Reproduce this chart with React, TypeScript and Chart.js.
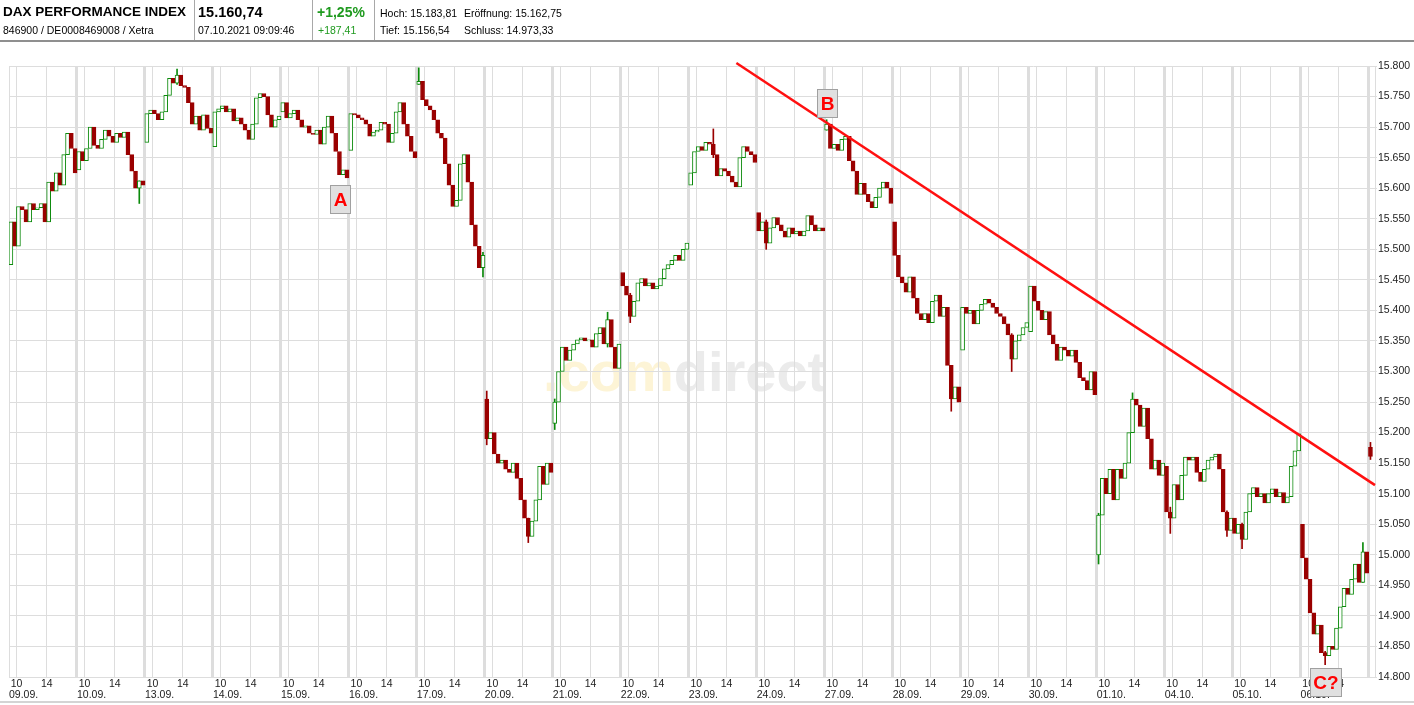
import React, { useEffect, useRef } from 'react';
import { Chart, registerables } from 'chart.js';

Chart.register(...registerables);

const FONT = '"Liberation Sans", Arial, Helvetica, sans-serif';

// ---- data ----
const DAY_LABELS = ['09.09.', '10.09.', '13.09.', '14.09.', '15.09.', '16.09.', '17.09.', '20.09.', '21.09.', '22.09.', '23.09.', '24.09.', '27.09.', '28.09.', '29.09.', '30.09.', '01.10.', '04.10.', '05.10.', '06.10.', '07.10.'];
const HOUR_LABELS = ['10', '14'];
const HOUR_OFFSETS = [1, 5];

// each day: open of first 30-min candle, followed by the closes of the 30-min candles
const p0909 = [15475, 15545, 15505, 15570, 15565, 15545, 15575, 15565, 15568, 15575, 15545, 15610, 15595, 15625, 15605, 15655, 15690, 15665, 15625];
const p1009 = [15630, 15660, 15645, 15665, 15700, 15670, 15665, 15680, 15695, 15685, 15675, 15690, 15683, 15692, 15655, 15628, 15600, 15612, 15605];
const p1309 = [15675, 15722, 15728, 15722, 15712, 15725, 15752, 15780, 15772, 15785, 15768, 15765, 15740, 15705, 15718, 15695, 15720, 15698, 15690];
const p1409 = [15668, 15725, 15730, 15735, 15725, 15730, 15710, 15715, 15705, 15695, 15680, 15705, 15748, 15755, 15750, 15720, 15700, 15712, 15718];
const p1509 = [15725, 15740, 15715, 15722, 15728, 15712, 15700, 15702, 15690, 15688, 15695, 15672, 15700, 15718, 15690, 15660, 15622, 15630, 15617];
const p1609 = [15662, 15722, 15720, 15715, 15712, 15705, 15685, 15692, 15695, 15708, 15705, 15675, 15690, 15725, 15740, 15705, 15685, 15660, 15650];
const p1709 = [15770, 15775, 15745, 15735, 15728, 15712, 15690, 15682, 15640, 15605, 15570, 15580, 15640, 15655, 15610, 15540, 15505, 15470, 15490];
const p2009 = [15255, 15190, 15200, 15165, 15150, 15155, 15140, 15135, 15150, 15125, 15090, 15060, 15030, 15055, 15090, 15145, 15115, 15150, 15135];
const p2109 = [15215, 15250, 15300, 15340, 15318, 15335, 15345, 15352, 15355, 15350, 15352, 15340, 15362, 15372, 15345, 15385, 15340, 15305, 15345];
const p2209 = [15462, 15440, 15425, 15390, 15415, 15445, 15452, 15440, 15445, 15435, 15440, 15452, 15468, 15475, 15482, 15490, 15482, 15500, 15510];
const p2309 = [15605, 15625, 15660, 15668, 15662, 15675, 15672, 15655, 15620, 15632, 15628, 15620, 15610, 15602, 15650, 15668, 15660, 15655, 15642];
const p2409 = [15560, 15530, 15545, 15510, 15535, 15552, 15540, 15530, 15520, 15535, 15525, 15530, 15522, 15530, 15555, 15540, 15530, 15535, 15530];
const p2709 = [15695, 15705, 15665, 15672, 15662, 15680, 15685, 15645, 15628, 15590, 15608, 15590, 15578, 15568, 15585, 15600, 15610, 15600, 15575];
const p2809 = [15545, 15490, 15455, 15445, 15430, 15455, 15420, 15395, 15385, 15395, 15380, 15415, 15425, 15390, 15405, 15310, 15255, 15275, 15250];
const p2909 = [15335, 15405, 15395, 15400, 15378, 15400, 15410, 15418, 15412, 15405, 15395, 15390, 15378, 15360, 15320, 15350, 15360, 15372, 15380];
const p3009 = [15365, 15440, 15415, 15400, 15385, 15398, 15360, 15345, 15318, 15340, 15335, 15325, 15335, 15315, 15290, 15285, 15270, 15300, 15262];
const p0110 = [15000, 15065, 15125, 15100, 15140, 15090, 15140, 15125, 15150, 15200, 15255, 15245, 15210, 15240, 15190, 15140, 15155, 15130, 15150];
const p0410 = [15145, 15070, 15060, 15115, 15090, 15130, 15160, 15155, 15160, 15135, 15120, 15140, 15155, 15160, 15165, 15140, 15070, 15040, 15060];
const p0510 = [15060, 15035, 15050, 15025, 15070, 15100, 15110, 15095, 15100, 15085, 15100, 15108, 15095, 15102, 15085, 15095, 15145, 15170, 15198];
const p0610 = [15050, 14995, 14960, 14905, 14870, 14885, 14840, 14835, 14850, 14845, 14880, 14915, 14945, 14935, 14960, 14985, 14955, 15005, 14970];
const p0710 = [15176, 15161];

const DAY_PRICES = [p0909, p1009, p1309, p1409, p1509, p1609, p1709, p2009, p2109, p2209, p2309, p2409, p2709, p2809, p2909, p3009, p0110, p0410, p0510, p0610, p0710];

// visible wicks (day index, candle slot, low, high)
const WICK_DAY = [1, 2, 6, 6, 7, 7, 8, 8, 9, 10, 11, 12, 13, 14, 16, 16, 17, 17, 18, 19, 19, 20];
const WICK_SLOT = [16, 8, 0, 17, 0, 11, 0, 14, 2, 6, 2, 0, 15, 13, 0, 9, 1, 16, 2, 6, 16, 0];
const WICK_LOW = [15575, 15770, 15770, 15455, 15180, 15020, 15205, 15340, 15380, 15650, 15500, 15695, 15235, 15300, 14985, 15200, 15035, 15030, 15010, 14820, 14990, 15156];
const WICK_HIGH = [15612, 15795, 15797, 15495, 15268, 15060, 15255, 15397, 15428, 15697, 15548, 15712, 15275, 15362, 15068, 15265, 15078, 15072, 15052, 14842, 15020, 15184];

const Y_MIN = 14800;
const Y_MAX = 15800;
const Y_STEP = 50;

// trend line (x in trading hours since 09.09. 09:00, 9 h per day on the axis)
const TREND_X = [96.3, 180.85];
const TREND_Y = [15805, 15114];

const MARKER_LABELS = ['A', 'B', 'C?'];
const MARKER_X = [43.83, 108.35, 174.3];
const MARKER_Y = [15582, 15739, 14791];

const HOURS_PER_DAY = 9;
const SLOT = 0.5;
const X_MAX = 180.85;

const UP = '#0b8a0b';
const DOWN = '#9a0000';
const GRID = '#dddddd';

function fmt(v: number): string {
  const s = String(Math.round(v));
  return s.slice(0, s.length - 3) + '.' + s.slice(s.length - 3);
}

const slotX = (d: number, i: number) => d * HOURS_PER_DAY + SLOT / 2 + SLOT * i;

const decorPlugin = {
  id: 'decor',
  beforeDraw(chart: any) {
    const ctx = chart.ctx;
    ctx.save();
    ctx.font = 'bold 56px ' + FONT;
    ctx.textBaseline = 'alphabetic';
    ctx.textAlign = 'left';
    ctx.fillStyle = '#fdf4d6';
    const x0 = 543;
    ctx.fillText('.com', x0, 391);
    const w = ctx.measureText('.com').width;
    ctx.fillStyle = '#ebebeb';
    ctx.fillText('direct', x0 + w, 391);
    ctx.restore();
  },
  afterDraw(chart: any) {
    const ctx = chart.ctx;
    const xs = chart.scales.x;
    const ys = chart.scales.y;
    ctx.save();
    ctx.font = '10.5px ' + FONT;
    ctx.fillStyle = '#222';
    ctx.textBaseline = 'middle';
    for (let d = 0; d < DAY_LABELS.length - 1; d++) {
      const base = d * HOURS_PER_DAY;
      ctx.textAlign = 'center';
      HOUR_LABELS.forEach((h, i) => {
        ctx.fillText(h, xs.getPixelForValue(base + HOUR_OFFSETS[i]), 684);
      });
      ctx.textAlign = 'left';
      ctx.fillText(DAY_LABELS[d], xs.getPixelForValue(base), 695);
    }
    // bottom frame line
    ctx.fillStyle = '#d4d4d4';
    ctx.fillRect(0, 701, chart.width, 2);

    // markers
    MARKER_LABELS.forEach((lab, i) => {
      const cx = xs.getPixelForValue(MARKER_X[i]);
      const cy = ys.getPixelForValue(MARKER_Y[i]);
      ctx.font = 'bold 19px ' + FONT;
      const tw = ctx.measureText(lab).width;
      const bw = Math.round(tw + 6);
      const bh = 28;
      const bx = Math.round(cx - bw / 2) + 0.5;
      const by = Math.round(cy - bh / 2) + 0.5;
      ctx.fillStyle = '#e0e0e0';
      ctx.fillRect(bx, by, bw, bh);
      ctx.strokeStyle = '#a0a0a0';
      ctx.lineWidth = 1;
      ctx.strokeRect(bx, by, bw, bh);
      ctx.fillStyle = '#ff0000';
      ctx.textAlign = 'center';
      ctx.textBaseline = 'middle';
      ctx.fillText(lab, bx + bw / 2, by + bh / 2 + 1);
    });
    ctx.restore();
  },
};

function buildCandles() {
  const out: { x: number; y: [number, number] }[] = [];
  DAY_PRICES.forEach((prices, d) => {
    for (let i = 1; i < prices.length; i++) {
      out.push({ x: slotX(d, i - 1), y: [prices[i - 1], prices[i]] });
    }
  });
  return out;
}

function buildWicks() {
  return WICK_DAY.map((d, k) => {
    const s = WICK_SLOT[k];
    const o = DAY_PRICES[d][s];
    const c = DAY_PRICES[d][s + 1];
    return {
      x: slotX(d, s),
      y: [Math.min(WICK_LOW[k], o, c), Math.max(WICK_HIGH[k], o, c)] as [number, number],
      up: c >= o,
    };
  });
}

function ChartCanvas() {
  const ref = useRef<HTMLCanvasElement | null>(null);
  useEffect(() => {
    if (!ref.current) return;
    const candles = buildCandles();
    const wicks = buildWicks();
    const isUp = (c: any) => {
      const r = c && c.raw;
      if (!r || !r.y) return false;
      return r.y[1] >= r.y[0];
    };
    const chart = new Chart(ref.current, {
      type: 'bar',
      data: {
        datasets: [
          {
            type: 'line',
            data: TREND_X.map((x, i) => ({ x, y: TREND_Y[i] })),
            borderColor: '#ff1010',
            borderWidth: 2.5,
            pointRadius: 0,
            clip: false,
            order: 0,
          } as any,
          {
            type: 'bar',
            data: candles as any,
            barThickness: 4,
            grouped: false,
            borderWidth: 1,
            borderSkipped: false,
            backgroundColor: (c: any) => (isUp(c) ? '#ffffff' : DOWN),
            borderColor: (c: any) => (isUp(c) ? UP : DOWN),
            order: 1,
          } as any,
          {
            type: 'bar',
            data: wicks as any,
            barThickness: 1,
            grouped: false,
            borderWidth: 0,
            backgroundColor: (c: any) => (c && c.raw && c.raw.up ? UP : DOWN),
            order: 2,
          } as any,
        ],
      },
      options: {
        animation: false,
        responsive: false,
        devicePixelRatio: 1,
        layout: { padding: { left: 9, top: 66, right: 0, bottom: 0 } },
        plugins: { legend: { display: false }, tooltip: { enabled: false } },
        scales: {
          x: {
            type: 'linear',
            min: 0,
            max: X_MAX,
            offset: false,
            afterFit: (s: any) => {
              s.height = 28;
            },
            afterBuildTicks: (s: any) => {
              const t: { value: number }[] = [];
              for (let d = 0; d < DAY_LABELS.length; d++) {
                const b = d * HOURS_PER_DAY;
                [0, ...HOUR_OFFSETS].forEach((o) => {
                  if (b + o <= X_MAX) t.push({ value: b + o });
                });
              }
              s.ticks = t;
            },
            ticks: { display: false },
            grid: {
              offset: false,
              color: GRID,
              drawTicks: false,
              lineWidth: (c: any) => {
                const v = c.tick ? c.tick.value : 1;
                return v > 0 && Math.abs(v % HOURS_PER_DAY) < 1e-6 ? 3 : 1;
              },
            },
            border: { display: true, color: GRID },
          },
          y: {
            position: 'right',
            min: Y_MIN,
            max: Y_MAX,
            afterFit: (s: any) => {
              s.width = 39;
            },
            ticks: {
              stepSize: Y_STEP,
              padding: 1,
              color: '#222',
              font: { family: FONT, size: 10.5 },
              callback: (v: any) => fmt(Number(v)),
            },
            grid: { offset: false, color: GRID, tickLength: 2, lineWidth: 1 },
            border: { display: true, color: GRID },
          },
        },
      },
      plugins: [decorPlugin],
    });
    return () => chart.destroy();
  }, []);
  return <canvas ref={ref} width={1414} height={705} style={{ display: 'block', width: 1414, height: 705 }} />;
}

function Header() {
  const t = (text: string, left: number, top: number, size: number, bold: boolean, color = '#000') => (
    <div
      style={{
        position: 'absolute',
        left,
        top,
        fontSize: size,
        lineHeight: 1,
        fontWeight: bold ? 700 : 400,
        color,
        whiteSpace: 'nowrap',
        fontFamily: FONT,
      }}
    >
      {text}
    </div>
  );
  const sep = (left: number) => (
    <div style={{ position: 'absolute', left, top: 0, width: 1, height: 40, background: '#a8a8a8' }} />
  );
  return (
    <div style={{ position: 'absolute', left: 0, top: 0, width: 1414, height: 43 }}>
      {t('DAX PERFORMANCE INDEX', 3, 5, 13.5, true)}
      {t('846900 / DE0008469008 / Xetra', 3, 24.7, 10.5, false)}
      {sep(194)}
      {t('15.160,74', 198, 5, 14.5, true)}
      {t('07.10.2021 09:09:46', 198, 24.7, 10.5, false)}
      {sep(312)}
      {t('+1,25%', 317, 5, 14, true, '#1f9a1f')}
      {t('+187,41', 318, 24.7, 10.5, false, '#1f9a1f')}
      {sep(374)}
      {t('Hoch: 15.183,81', 380, 8.3, 10.5, false)}
      {t('Eröffnung: 15.162,75', 464, 8.3, 10.5, false)}
      {t('Tief: 15.156,54', 380, 24.7, 10.5, false)}
      {t('Schluss: 14.973,33', 464, 24.7, 10.5, false)}
      <div style={{ position: 'absolute', left: 0, top: 40, width: 1414, height: 2, background: '#8f8f8f' }} />
    </div>
  );
}

export default function App() {
  useEffect(() => {
    document.body.style.margin = '0';
  }, []);
  return (
    <div style={{ position: 'absolute', left: 0, top: 0, width: 1414, height: 705, background: '#fff', overflow: 'hidden' }}>
      <div style={{ position: 'absolute', left: 0, top: 0 }}>
        <ChartCanvas />
      </div>
      <Header />
    </div>
  );
}
